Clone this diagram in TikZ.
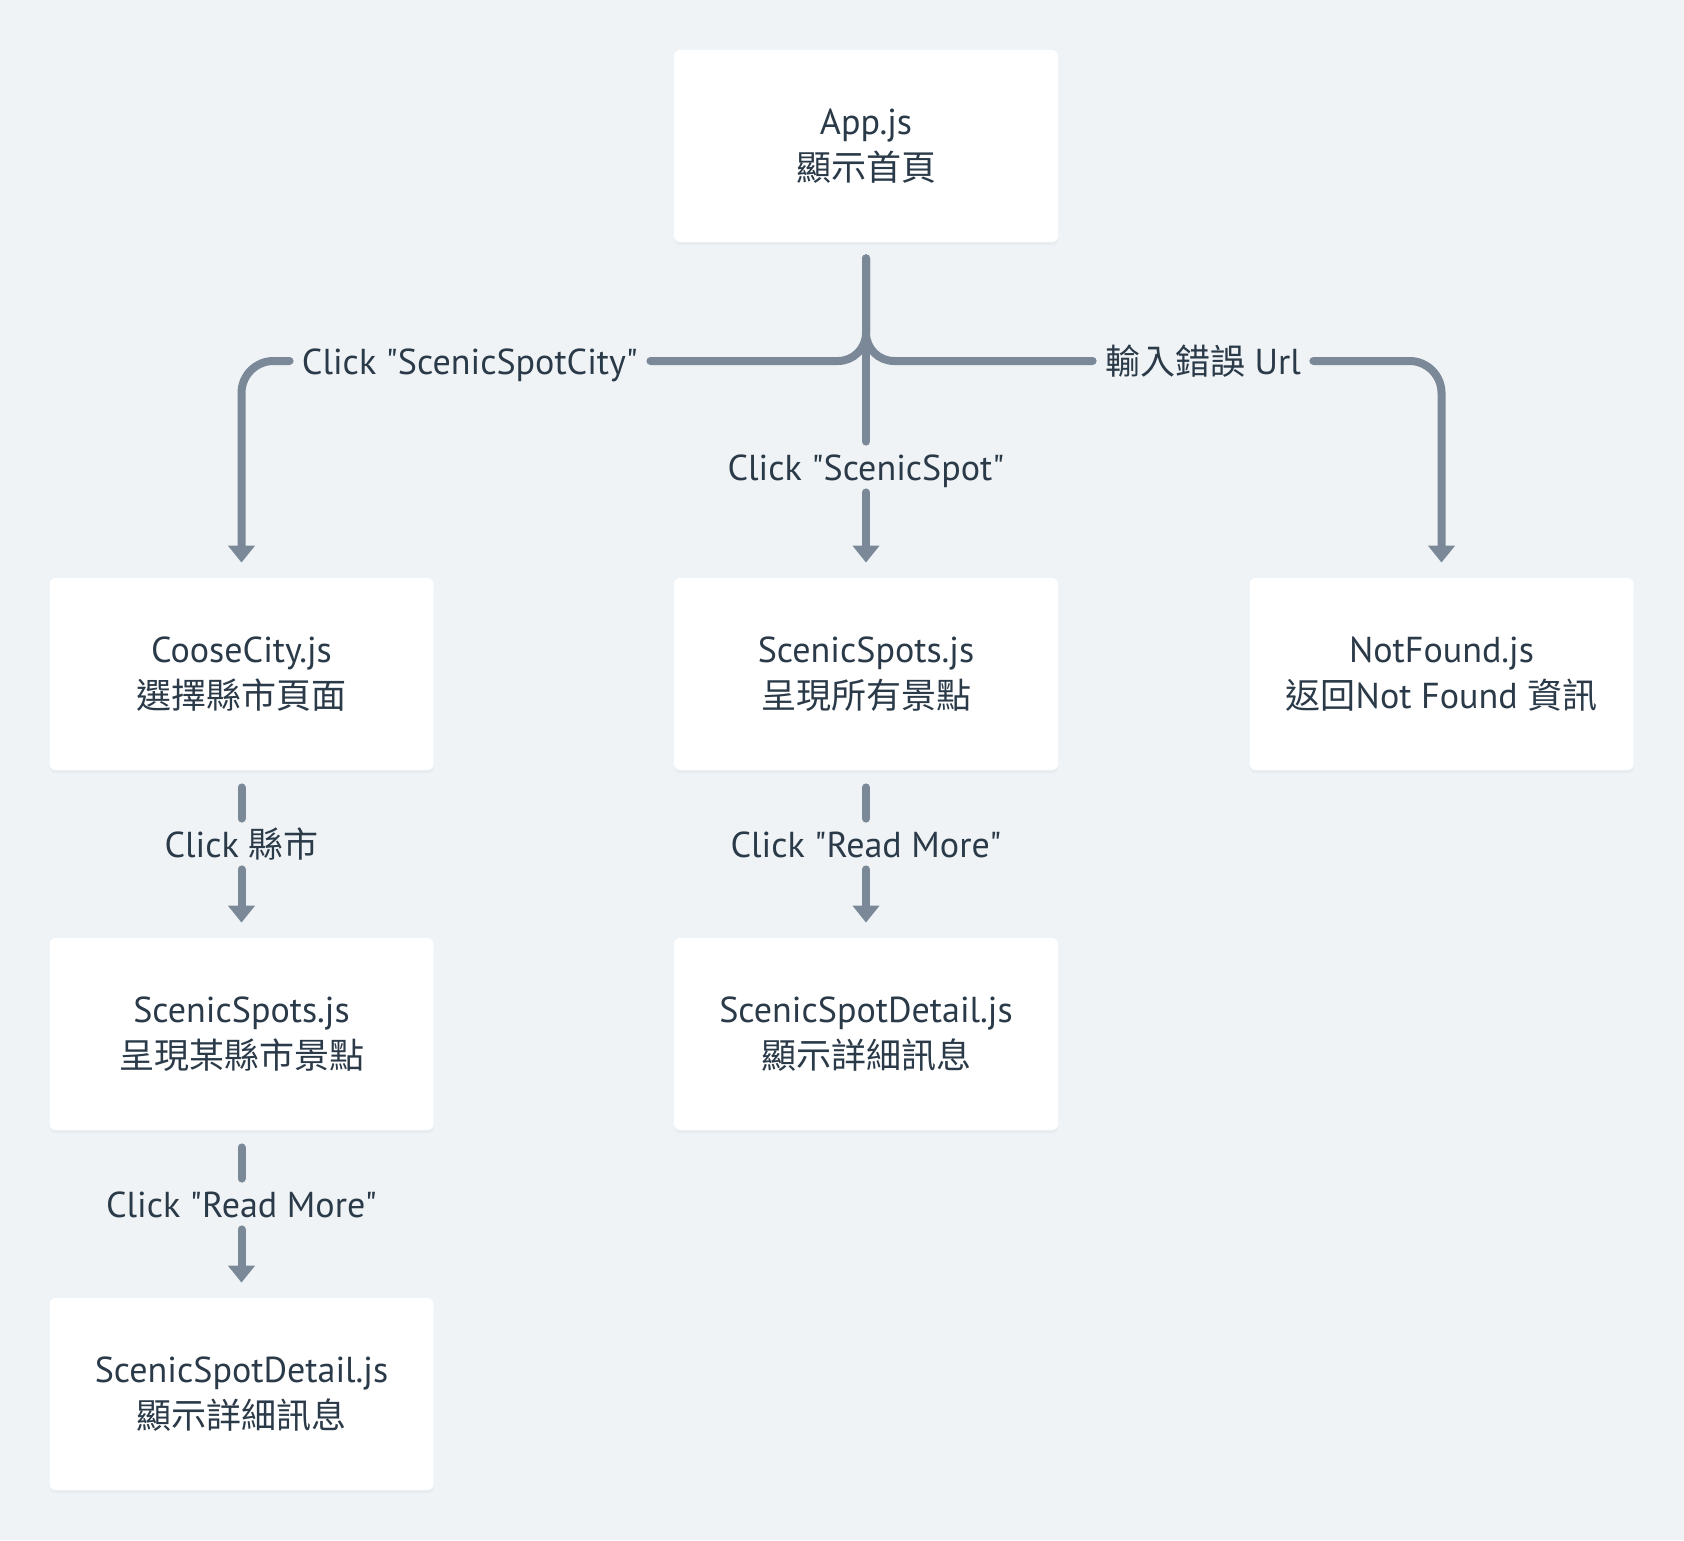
\documentclass[tikz,border=0pt]{standalone}
\usepackage{fontspec}
\setmainfont{PT Sans}[Ligatures=TeXOff, Scale=1.03]
\newfontfamily\cjk{Noto Sans CJK TC}
\usetikzlibrary{arrows.meta, shadows}
\definecolor{bgcol}{HTML}{EFF3F6}
\definecolor{linecol}{HTML}{7A8898}
\definecolor{txtcol}{HTML}{2B3A48}
\tikzset{
x=0.5pt, y=-0.5pt, % one unit is one pixel of the layout, y grows downwards
page/.style={fill=white, rounded corners=3pt, minimum width=192pt, minimum height=96pt, align=center, text=txtcol, font=\fontsize{17.5}{23}\selectfont, drop shadow={opacity=0.06, shadow xshift=0pt, shadow yshift=-1.5pt}}, % a page of the app
lbl/.style={inner xsep=6pt, inner ysep=5pt, text height=14pt, text depth=1pt, text=txtcol, font=\fontsize{17.5}{23}\selectfont}, % text on a connector
flow/.style={draw=linecol, line width=4pt, line cap=round}, % plain line
go/.style={flow, -{Triangle[width=13pt, length=8.5pt]}, shorten >=7.5pt}, % line with an arrow head
}

\begin{document}
\begin{tikzpicture}
\useasboundingbox[fill=bgcol] (0,0) rectangle (1684,1540);

% pages
\node[page] at (866,146) (app) {App.js\\{\cjk 顯示首頁}};
\node[page] at (241.5,674) (city) {CooseCity.js\\{\cjk 選擇縣市頁面}};
\node[page] at (866,674) (spots) {ScenicSpots.js\\{\cjk 呈現所有景點}};
\node[page] at (1441.5,674) (notfound) {NotFound.js\\{\cjk 返回}Not Found {\cjk 資訊}};
\node[page] at (241.5,1034) (cityspots) {ScenicSpots.js\\{\cjk 呈現某縣市景點}};
\node[page] at (866,1034) (detail) {ScenicSpotDetail.js\\{\cjk 顯示詳細訊息}};
\node[page] at (241.5,1394) (citydetail) {ScenicSpotDetail.js\\{\cjk 顯示詳細訊息}};

% labels
\node[lbl] at (470,361) (lblcity) {Click "ScenicSpotCity"};
\node[lbl] at (866,467) (lblspot) {Click "ScenicSpot"};
\node[lbl] at (1203,361) (lblurl) {{\cjk 輸入錯誤} Url};
\node[lbl] at (241.5,844) (lblpick) {Click {\cjk 縣市}};
\node[lbl] at (866,844) (lblmore) {Click "Read More"};
\node[lbl] at (241.5,1204) (lblcitymore) {Click "Read More"};

% from App.js
\draw[flow] ([yshift=-8pt]app.south) -- (lblspot.north);
\draw[flow, rounded corners=14pt] ([yshift=-8pt]app.south) |- (lblcity.east);
\draw[flow, rounded corners=14pt] ([yshift=-8pt]app.south) |- (lblurl.west);
\draw[go, rounded corners=16pt] (lblcity.west) -| (city.north);
\draw[go] (lblspot.south) -- (spots.north);
\draw[go, rounded corners=16pt] (lblurl.east) -| (notfound.north);

% second and third rows
\draw[flow] ([yshift=-8.5pt]city.south) -- (lblpick.north);
\draw[go] (lblpick.south) -- (cityspots.north);
\draw[flow] ([yshift=-8.5pt]spots.south) -- (lblmore.north);
\draw[go] (lblmore.south) -- (detail.north);
\draw[flow] ([yshift=-8.5pt]cityspots.south) -- (lblcitymore.north);
\draw[go] (lblcitymore.south) -- (citydetail.north);

\end{tikzpicture}
\end{document}
